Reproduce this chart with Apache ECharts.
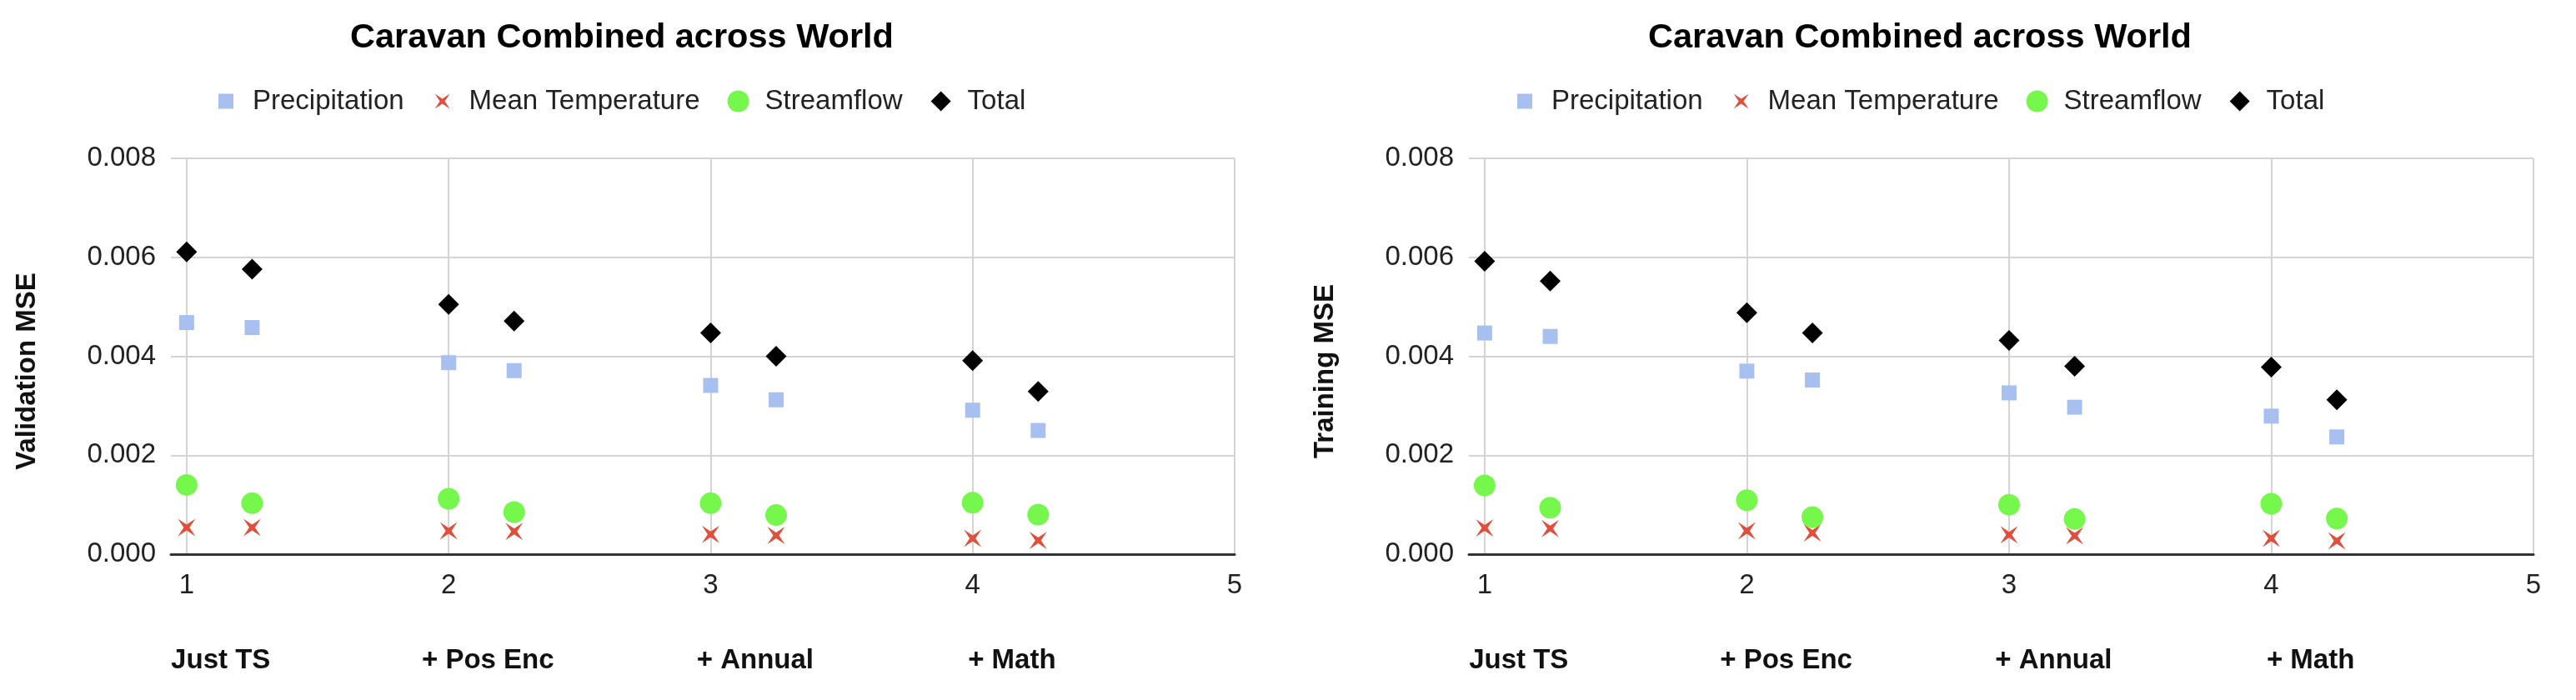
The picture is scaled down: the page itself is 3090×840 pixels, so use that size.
<!DOCTYPE html>
<html>
<head>
<meta charset="utf-8">
<title>Caravan Combined across World</title>
<script src="https://cdn.jsdelivr.net/npm/echarts@6/dist/echarts.min.js"></script>
<style>
  html, body { margin: 0; padding: 0; background: #fff; }
  #chart { width: 3090px; height: 840px; }
</style>
</head>
<body>
<div id="chart"></div>
<script>
// x positions of the runs (two runs per setup)
const xPos = [1, 1.25, 2, 2.25, 3, 3.25, 4, 4.25];
const xTicks = [1, 2, 3, 4, 5];
const setupNames = ['Just TS', '+ Pos Enc', '+ Annual', '+ Math'];
const setupPos = [1.13, 2.15, 3.17, 4.15];
const seriesNames = ['Precipitation', 'Mean Temperature', 'Streamflow', 'Total'];
const yTicks = [0, 0.002, 0.004, 0.006, 0.008];

// validation MSE (left chart)
const valPrecip = [0.00468, 0.00458, 0.00387, 0.00371, 0.00341, 0.00312, 0.00291, 0.00250];
const valTemp = [0.00054, 0.00054, 0.00047, 0.00046, 0.00040, 0.00038, 0.00032, 0.00028];
const valStream = [0.00140, 0.00103, 0.00112, 0.00085, 0.00103, 0.00079, 0.00104, 0.00080];
const valTotal = [0.00611, 0.00576, 0.00505, 0.00471, 0.00447, 0.00400, 0.00391, 0.00329];

// training MSE (right chart)
const trainPrecip = [0.00447, 0.00440, 0.00370, 0.00352, 0.00326, 0.00297, 0.00279, 0.00237];
const trainTemp = [0.00053, 0.00052, 0.00047, 0.00043, 0.00039, 0.00037, 0.00032, 0.00027];
const trainStream = [0.00139, 0.00094, 0.00109, 0.00075, 0.00100, 0.00071, 0.00102, 0.00072];
const trainTotal = [0.00592, 0.00552, 0.00488, 0.00447, 0.00432, 0.00380, 0.00378, 0.00312];

const FONT = '"Liberation Sans", Arial, sans-serif';
const colors = ['#a8c0ef', '#de503c', '#76f74b', '#000000'];
const starPath = 'path://M0,0 L9,6 L18,0 L12,9 L18,18 L9,12 L0,18 L6,9 Z';
const plotSymbols = ['rect', starPath, 'circle', 'diamond'];
const plotSizes = [18, 21, 26, 25];
// legend icons fill the item box, so smaller ones get an empty margin
const legendIcons = [
  'path://M0,0 L0,0.01 M4,4 L22,4 L22,22 L4,22 Z M26,26 L26,25.99',
  'path://M0,0 L0,0.01 M4,4 L13,10 L22,4 L16,13 L22,22 L13,16 L4,22 L10,13 Z M26,26 L26,25.99',
  'circle',
  'path://M0,0 L0,0.01 M13,1 L25,13 L13,25 L1,13 Z M26,26 L26,25.99'
];

const grids = [
  { left: 205, top: 190, width: 1276, height: 475 },
  { left: 1762, top: 190, width: 1277, height: 475 }
];
const charts = [
  { title: 'Caravan Combined across World', titleX: 741, legendX: 253, yName: 'Validation MSE',
    values: [valPrecip, valTemp, valStream, valTotal] },
  { title: 'Caravan Combined across World', titleX: 2298, legendX: 1811, yName: 'Training MSE',
    values: [trainPrecip, trainTemp, trainStream, trainTotal] }
];

const option = {
  backgroundColor: '#fff',
  animation: false,
  textStyle: { fontFamily: FONT },
  title: [],
  legend: [],
  grid: grids,
  xAxis: [],
  yAxis: [],
  series: []
};

charts.forEach(function (c, g) {
  option.title.push({
    text: c.title,
    left: c.titleX,
    top: 20,
    textAlign: 'center',
    textStyle: { fontFamily: FONT, fontSize: 41.5, fontWeight: 'bold', color: '#000' }
  });
  option.legend.push({
    left: c.legendX,
    top: 100,
    itemWidth: 26,
    itemHeight: 26,
    itemGap: 33,
    selectedMode: false,
    data: seriesNames.map(function (n, i) {
      return { name: n, icon: legendIcons[i], itemStyle: { color: colors[i] } };
    }),
    textStyle: { fontFamily: FONT, fontSize: 33, color: '#222', padding: [0, 0, 0, 14] }
  });
  // main value axis
  option.xAxis.push({
    gridIndex: g,
    type: 'value',
    min: 0.94,
    max: 5,
    z: 1,
    axisLine: { show: true, onZero: false, lineStyle: { color: '#333', width: 3 } },
    axisTick: { show: false, customValues: xTicks },
    axisLabel: { customValues: xTicks, margin: 21, fontSize: 33, color: '#222', fontFamily: FONT },
    splitLine: { show: true, lineStyle: { color: '#d4d4d4', width: 2 } }
  });
  // setup names under the axis
  option.xAxis.push({
    gridIndex: g,
    type: 'value',
    min: 0.94,
    max: 5,
    position: 'bottom',
    offset: 90,
    axisLine: { show: false },
    axisTick: { show: false, customValues: setupPos },
    splitLine: { show: false },
    axisLabel: {
      customValues: setupPos,
      margin: 21,
      fontSize: 33,
      fontWeight: 'bold',
      color: '#111',
      fontFamily: FONT,
      formatter: function (v) {
        const k = setupPos.findIndex(function (p) { return Math.abs(p - v) < 1e-6; });
        return k >= 0 ? setupNames[k] : '';
      }
    }
  });
  option.yAxis.push({
    gridIndex: g,
    type: 'value',
    min: yTicks[0],
    max: yTicks[yTicks.length - 1],
    interval: 0.002,
    name: c.yName,
    nameLocation: 'middle',
    nameGap: 156,
    nameTextStyle: { fontFamily: FONT, fontSize: 33, fontWeight: 'bold', color: '#111', padding: [0, 36, 0, 0] },
    axisLine: { show: false },
    axisTick: { show: false },
    axisLabel: {
      margin: 18, fontSize: 33, color: '#222', fontFamily: FONT,
      formatter: function (v) { return v.toFixed(3); }
    },
    splitLine: { show: true, lineStyle: { color: '#d4d4d4', width: 2 } }
  });
  seriesNames.forEach(function (n, i) {
    option.series.push({
      name: n,
      type: 'scatter',
      xAxisIndex: g * 2,
      yAxisIndex: g,
      symbol: plotSymbols[i],
      symbolSize: plotSizes[i],
      itemStyle: { color: colors[i], opacity: 1 },
      data: xPos.map(function (x, k) { return [x, c.values[i][k]]; })
    });
  });
});

const myChart = echarts.init(document.getElementById('chart'), null, { renderer: 'canvas' });
myChart.setOption(option);
window.onresize = function () {
  myChart.resize();
};
</script>
</body>
</html>
